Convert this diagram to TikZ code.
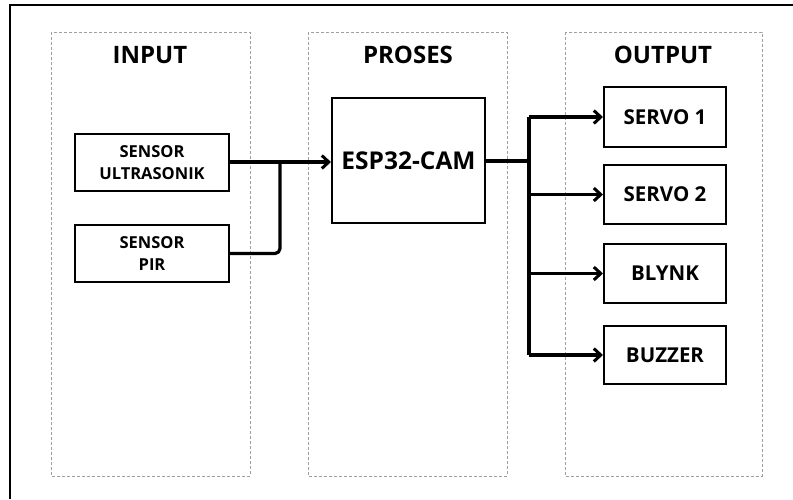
\documentclass[tikz,border=0pt]{standalone}
\usepackage{fontspec}
\setmainfont{Open Sans}
\usetikzlibrary{arrows.meta}
\begin{document}
\begin{tikzpicture}[x=1pt,y=-1pt,
  lane/.style={draw=gray!75, line width=1pt, dash pattern=on 3pt off 2pt},
  blk/.style={draw=black, line width=2pt, minimum width=#1, inner sep=0pt, align=center},
  conn/.style={line width=3.2pt, line join=round},
  arr/.style={conn, -{Straight Barb[length=7pt,width=13pt,line width=3pt]}},
  title/.style={font=\bfseries\fontsize{24}{28}\selectfont}]
\useasboundingbox (0,0) rectangle (793,499);
% outer frame (top and left only)
\draw[line width=2.6pt] (10,499) -- (10,5) -- (793,5);
% lanes
\draw[lane] (51,32) rectangle (250,476);
\draw[lane] (308,32) rectangle (507,476);
\draw[lane] (565,32) rectangle (762,476);
\node[title] (tin) at (150,55) {INPUT};
\node[title] (tpr) at (408,55) {PROSES};
\node[title] (tout) at (663,55) {OUTPUT};
% input blocks
\node[blk=154pt, minimum height=57pt, font=\bfseries\fontsize{16.5}{22}\selectfont] (us) at (152,162.5) {SENSOR\\ULTRASONIK};
\node[blk=154pt, minimum height=57pt, font=\bfseries\fontsize{16.5}{22}\selectfont] (pir) at (152,253.5) {SENSOR\\PIR};
% process
\node[blk=153pt, minimum height=125pt, font=\bfseries\fontsize{24.5}{28}\selectfont] (esp) at (408.5,160.5) {ESP32-CAM};
% outputs
\node[blk=122pt, minimum height=60pt, font=\bfseries\fontsize{20.5}{24}\selectfont] (s1) at (665,117) {SERVO 1};
\node[blk=122pt, minimum height=59pt, font=\bfseries\fontsize{20.5}{24}\selectfont] (s2) at (665,194.5) {SERVO 2};
\node[blk=122pt, minimum height=59pt, font=\bfseries\fontsize{20.5}{24}\selectfont] (bl) at (665,273.5) {BLYNK};
\node[blk=122pt, minimum height=58pt, font=\bfseries\fontsize{20.5}{24}\selectfont] (bz) at (665,355) {BUZZER};
% junction points
\coordinate (jin) at (280,162);
\coordinate (jout) at (529,161);
% input connectors
\draw[conn] (us.east |- jin) -- (jin);
\draw[conn, rounded corners=5pt] (pir.east) -- (pir.east -| jin) -- (jin);
\draw[arr] (jin) -- (esp.west |- jin);
% output connectors
\draw[conn] (esp.east |- jout) -- (jout);
\draw[conn] (s1.west -| jout) -- (bz.west -| jout);
\draw[arr] (s1.west -| jout) -- (s1.west);
\draw[arr] (s2.west -| jout) -- (s2.west);
\draw[arr] (bl.west -| jout) -- (bl.west);
\draw[arr] (bz.west -| jout) -- (bz.west);
\end{tikzpicture}
\end{document}
